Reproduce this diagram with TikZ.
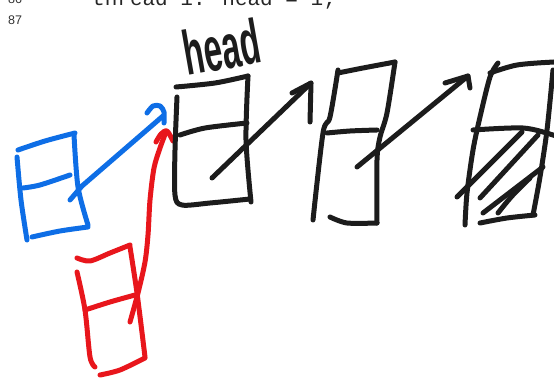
\documentclass[tikz,border=0pt]{standalone}
\usepackage{fontspec}
\setmainfont{Liberation Sans}
\newfontfamily\codefont{Liberation Mono}
\usetikzlibrary{positioning}
\definecolor{inkblack}{HTML}{1C1C1C}
\definecolor{inkblue}{HTML}{0E6EE6}
\definecolor{inkred}{HTML}{E8161C}

\begin{document}
\begin{tikzpicture}[x=1pt, y=-1pt]
    \tikzset{
        pen/.style={line width=5pt, line cap=round, line join=round, inkblack},
        bluepen/.style={pen, inkblue},
        redpen/.style={pen, inkred},
        linenum/.style={anchor=base west, inner sep=0pt, text=black!80,
            font=\fontsize{12.5}{12.5}\selectfont}
    }
    \useasboundingbox (0,0) rectangle (554,379);

    % code lines, cut by the top edge
    \node[linenum] (ln86) at (8,4) {86};
    \node[linenum] (ln87) at (8,25) {87};
    \node[anchor=base west, inner sep=0pt, text=black!85,
        font=\codefont\fontsize{21}{21}\selectfont] (code) at (92,6) {thread 1: head = 1;};

    \node[inkblack, rotate=10, yscale=1.9, inner sep=0pt,
        font=\bfseries\fontsize{33}{33}\selectfont] (headlbl) at (222,47) {head};

    % blue box
    \begin{scope}
        \draw[bluepen] plot[smooth] coordinates {(18,150) (45,141) (75,133)};
        \draw[bluepen] plot[smooth] coordinates {(17,157) (21,200) (27,240)};
        \draw[bluepen] plot[smooth] coordinates {(74,135) (78,187) (88,225)};
        \draw[bluepen] plot[smooth] coordinates {(32,237) (60,231) (88,227)};
        \draw[bluepen] plot[smooth] coordinates {(23,188) (40,185) (70,175)};
        \coordinate (bluefrom) at (70,200);
        \coordinate (blueto) at (163,116);
        \draw[bluepen] (bluefrom) -- (82,186) -- (blueto);
        \draw[bluepen] plot[smooth] coordinates {(147,113) (153,106) (160,106) (164,112) (164,123)};
    \end{scope}

    % red box
    \begin{scope}
        \draw[redpen] plot[smooth] coordinates {(77,258) (90,261) (110,253) (130,245)};
        \draw[redpen] plot[smooth] coordinates {(77,272) (85,310) (90,357) (95,367)};
        \draw[redpen] plot[smooth] coordinates {(130,247) (137,293) (145,357)};
        \draw[redpen] plot[smooth] coordinates {(100,375) (120,370) (145,358)};
        \draw[redpen] plot[smooth] coordinates {(85,310) (110,302) (135,295)};
        \coordinate (redfrom) at (130,322);
        \coordinate (redto) at (166,132);
        \draw[redpen] plot[smooth] coordinates {(redfrom) (138,293) (145,262) (148,235) (150,200) (154,168) (160,148) (redto)};
        \draw[redpen] plot[smooth] coordinates {(156,142) (161,134) (167,131) (173,141)};
    \end{scope}

    % head node
    \begin{scope}
        \draw[pen] plot[smooth] coordinates {(176,87) (215,83) (248,76)};
        \draw[pen] plot[smooth] coordinates {(248,76) (246,140) (251,202)};
        \draw[pen] plot[smooth] coordinates {(177,97) (175,150) (175,195) (182,205) (210,203) (250,199)};
        \draw[pen] plot[smooth] coordinates {(180,135) (205,128) (247,123)};
        \coordinate (n1from) at (212,178);
        \coordinate (n1to) at (311,83);
        \draw[pen] (n1from) -- (n1to);
        \draw[pen] (292,93) -- (n1to) -- (310,122);
    \end{scope}

    % second node
    \begin{scope}
        \draw[pen] plot[smooth] coordinates {(338,70) (330,117) (323,133) (313,220)};
        \draw[pen] plot[smooth] coordinates {(338,73) (363,68) (395,62)};
        \draw[pen] plot[smooth] coordinates {(395,62) (387,113) (380,137) (377,160) (377,223)};
        \draw[pen] plot[smooth] coordinates {(330,217) (347,223) (377,223)};
        \draw[pen] plot[smooth] coordinates {(327,133) (350,131) (377,130)};
        \coordinate (n2from) at (357,167);
        \coordinate (n2to) at (468,76);
        \draw[pen] (n2from) -- (n2to);
        \draw[pen] (445,83) -- (n2to) -- (470,88);
    \end{scope}

    % third node, hatched
    \begin{scope}
        \draw[pen] plot[smooth] coordinates {(498,63) (490,77) (480,117) (473,150) (467,193) (465,225)};
        \draw[pen] plot[smooth] coordinates {(490,73) (517,65) (554,62) (570,62)};
        \draw[pen] plot[smooth] coordinates {(553,70) (547,130) (540,177) (533,215)};
        \draw[pen] plot[smooth] coordinates {(473,130) (523,128) (553,135) (565,140)};
        \draw[pen] plot[smooth] coordinates {(480,223) (507,218) (535,215)};
        \draw[pen] (457,197) -- (522,132);
        \draw[pen] (480,198) -- (538,135);
        \draw[pen] (483,213) -- (543,167);
        \draw[pen] plot[smooth] coordinates {(498,213) (512,196) (530,178)};
    \end{scope}

\end{tikzpicture}
\end{document}
